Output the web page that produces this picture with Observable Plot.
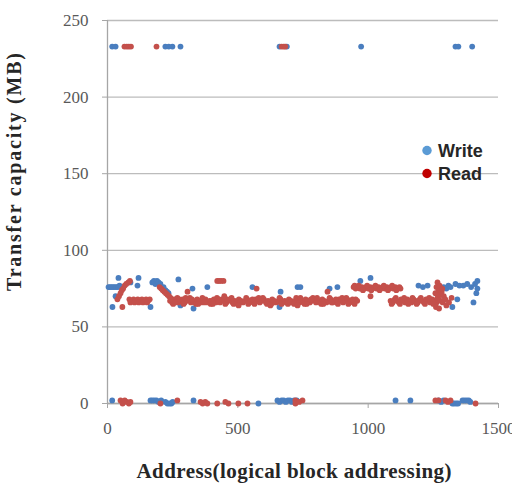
<!DOCTYPE html>
<html><head><meta charset="utf-8">
<script src="https://cdn.jsdelivr.net/npm/d3@7"></script>
<script src="https://cdn.jsdelivr.net/npm/@observablehq/plot@0.6"></script>
<style>
body{margin:0;background:#fff;}
#chart{position:relative;width:512px;height:483px;overflow:hidden;}
</style>
</head><body><div id="chart"></div>
<script>
const xTicks = [0, 500, 1000, 1500];
const yTicks = [0, 50, 100, 150, 200, 250];
const seriesNames = ["Write", "Read"];

// Write (blue) points: [address, MB]
const writePoints = [
  [18,233],[31,233],[222,233],[235,233],[249,233],[280,233],[660,233],[688,233],[973,233],[1335,233],[1346,233],[1399,233],
  [4,76],[10,76],[16,76],[22,76],[28,76],[34,76],[40,76],[46,77],[42,82],[19,63],[31,70],[88,79],[119,82],[115,77],
  [165,63],[172,79],[178,80],[184,78],[190,80],[196,79],[203,78],[215,76],[222,74],[228,73],[234,72],[272,81],[280,64],
  [326,75],[330,62],[383,76],[556,76],[664,73],[660,63],[729,76],[740,76],[852,75],[882,76],[970,80],[1009,82],
  [1193,77],[1210,76],[1228,77],[1290,76],[1300,75],[1308,77],[1323,63],[1316,76],[1335,78],[1350,77],[1342,68],
  [1365,77],[1380,78],[1395,76],[1404,66],[1410,78],[1419,80],[1419,75],[1415,72],
  [18,2],[165,2],[172,2],[180,2],[188,2],[196,1],[206,2],[222,1],[230,0],[238,0],[245,0],[250,1],[330,2],[579,0],
  [652,2],[660,1],[668,2],[676,2],[684,1],[692,2],[700,2],[708,1],[716,2],[726,2],[1105,2],[1162,2],[1270,2],[1280,1],
  [1289,2],[1323,0],[1330,0],[1338,0],[1345,0],[1362,2],[1370,2],[1378,2],[1386,2],[1392,1]
];

// Read (red) points: [address, MB]
const readPoints = [
  [65,233],[74,233],[82,233],[90,233],[188,233],[668,233],[676,233],[682,233],
  [38,68],[44,70],[50,72],[55,74],[60,75],[66,77],[72,78],[80,79],[86,80],[57,63],
  [84,68],[92,67],[100,68],[108,67],[116,68],[124,67],[132,68],[140,67],[148,68],[156,67],[162,68],
  [88,66],[104,66],[120,66],[136,66],[152,66],
  [200,76],[206,75],[212,74],[218,73],[224,72],[230,71],[236,70],[242,69],
  [240,67],[248,66],[256,68],[264,67],[272,66],[280,67],[288,68],[296,66],[304,67],[312,68],[320,66],[328,67],
  [336,66],[344,68],[352,67],[360,66],[368,67],[376,68],[384,66],[392,67],[400,67],[408,68],[416,66],[424,67],
  [432,66],[440,68],[448,67],[456,66],[464,67],[472,68],[480,66],[488,67],[496,66],[504,68],[512,67],[520,66],
  [528,67],[536,68],[544,66],[552,67],[560,66],[568,68],[576,67],[584,66],[592,67],[600,68],[608,66],[616,67],
  [624,66],[632,68],[640,67],[648,66],[656,67],[664,68],[672,66],[680,67],[688,66],[696,68],[704,67],[712,66],
  [720,67],[728,68],[736,66],[744,67],[752,66],[760,68],[768,67],[776,66],[784,67],[792,68],[800,66],[808,67],
  [816,66],[824,68],[832,67],[840,66],[848,67],[856,68],[864,66],[872,67],[880,66],[888,68],[896,67],[904,66],
  [912,67],[920,68],[928,66],[936,67],[944,66],[952,68],[958,67],
  [252,65],[268,69],[292,65],[316,69],[340,65],[364,69],[396,65],[420,69],[452,65],[476,69],[500,65],[532,69],
  [564,65],[596,69],[628,65],[660,69],[692,65],[724,69],[756,65],[788,69],[820,65],[852,69],[884,65],[916,69],[948,65],
  [244,68],[260,66],[276,68],[300,69],[324,68],[348,65],[372,66],[404,65],[428,68],[460,68],[484,65],[508,66],
  [540,65],[556,68],[580,69],[612,65],[636,66],[668,65],[700,66],[716,65],[740,69],[764,65],[780,68],[804,69],
  [828,65],[860,66],[876,68],[900,69],[924,65],[940,68],
  [307,73],[421,80],[428,80],[436,80],[445,80],[448,70],[503,64],[572,75],[625,64],[729,64],[844,73],
  [944,76],[952,75],[960,76],[968,75],[976,76],[984,75],[992,76],[1000,75],[1008,76],[1016,75],[1024,76],[1032,75],
  [1040,76],[1048,75],[1056,76],[1064,75],[1072,76],[1080,75],[1088,76],[1096,75],[1104,76],[1112,75],[1120,76],[1009,70],
  [948,77],[964,77],[980,74],[996,77],[1012,74],[1028,77],[1044,74],[1060,77],[1076,74],[1092,77],[1108,74],[1124,75],
  [1086,67],[1094,66],[1102,68],[1110,67],[1118,66],[1126,68],[1134,67],[1142,66],[1150,68],[1158,67],[1166,66],
  [1174,68],[1182,67],[1190,66],[1198,68],[1206,67],[1214,66],[1222,68],[1230,67],[1238,66],[1246,68],[1254,67],
  [1262,66],[1270,68],[1278,67],[1286,66],
  [1090,65],[1106,69],[1122,65],[1138,69],[1154,65],[1170,69],[1186,65],[1202,69],[1218,65],[1234,69],[1250,65],[1266,69],
  [1266,79],[1262,76],[1270,74],[1258,72],[1276,71],[1282,73],[1290,70],[1296,68],[1260,63],[1272,62],[1300,64],
  [1310,66],[1320,69],[1274,77],[1284,75],
  [50,2],[58,0],[66,2],[74,1],[82,0],[88,1],[203,0],[268,2],[357,1],[365,0],[375,1],[383,0],[421,0],[452,1],[464,0],
  [502,0],[537,0],[721,2],[721,0],[735,1],[748,2],[1258,2],[1270,2],[1297,2],[1306,1],[1316,2],[1412,0]
];

const dataBlue = "#4a7ebf", dataRed = "#c4504b";
const legendBlue = "#5b9bd5", legendRed = "#c00000";

const chart = Plot.plot({
  width: 512, height: 483,
  marginLeft: 107, marginRight: 14, marginTop: 20, marginBottom: 80,
  style: {fontFamily: "'Liberation Serif', 'DejaVu Serif', serif", fontSize: "17px", color: "#595959", background: "#fff"},
  x: {domain: [0, 1500]},
  y: {domain: [0, 250]},
  marks: [
    Plot.gridY(yTicks, {stroke: "#bcbcbc", strokeOpacity: 1, strokeWidth: 1.3}),
    Plot.ruleX([0], {stroke: "#a6a6a6", strokeWidth: 1.3}),
    Plot.ruleY([0], {stroke: "#a6a6a6", strokeWidth: 1.3}),
    Plot.axisY(yTicks, {tickSize: 5, tickPadding: 14, stroke: "#a6a6a6", fill: "#595959", label: null, tickFormat: d => String(d)}),
    Plot.axisX(xTicks, {tickSize: 5, tickPadding: 13, stroke: "#a6a6a6", fill: "#595959", label: null, tickFormat: d => String(d)}),
    Plot.dot(writePoints, {x: d => d[0], y: d => d[1], r: 2.9, fill: dataBlue, stroke: "none"}),
    Plot.dot(readPoints, {x: d => d[0], y: d => d[1], r: 2.9, fill: dataRed, stroke: "none"})
  ]
});
document.getElementById("chart").appendChild(chart);

const svg = d3.select(chart);
// axis titles
svg.append("text")
  .attr("transform", "translate(21,172) rotate(-90)")
  .attr("text-anchor", "middle")
  .attr("font-family", "'Liberation Serif', serif")
  .attr("font-weight", "bold").attr("font-size", 20).attr("fill", "#262626")
  .attr("textLength", 238).attr("lengthAdjust", "spacing")
  .text("Transfer capacity (MB)");
svg.append("text")
  .attr("x", 294).attr("y", 478)
  .attr("text-anchor", "middle")
  .attr("font-family", "'Liberation Serif', serif")
  .attr("font-weight", "bold").attr("font-size", 21).attr("fill", "#262626")
  .attr("textLength", 315).attr("lengthAdjust", "spacing")
  .text("Address(logical block addressing)");

// legend
const legendColors = [legendBlue, legendRed];
const lg = svg.append("g").attr("font-family", "'Liberation Sans', Arial, sans-serif")
  .attr("font-weight", "bold").attr("font-size", 18).attr("fill", "#262626").attr("text-anchor", "start");
seriesNames.forEach((name, i) => {
  const y = 150.5 + i * 23;
  lg.append("circle").attr("cx", 427).attr("cy", y).attr("r", 4.7).attr("fill", legendColors[i]);
  lg.append("text").attr("x", 438).attr("y", y + 6.3).attr("text-anchor", "start").attr("fill", "#262626").text(name);
});
</script>
</body></html>
